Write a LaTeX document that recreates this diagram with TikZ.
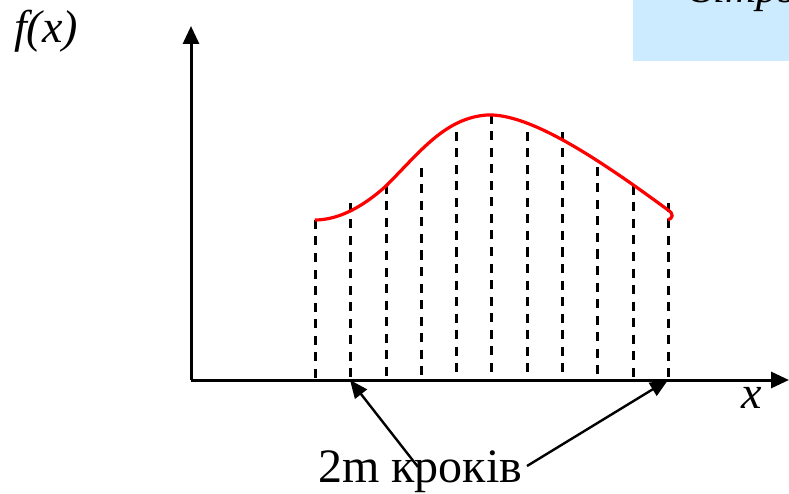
\documentclass[tikz,border=0pt]{standalone}
\usepackage{fontspec}
\setmainfont{Liberation Serif}
\usetikzlibrary{arrows.meta}
\definecolor{boxblue}{HTML}{CCEBFF}
\tikzset{
  axis/.style={line width=3pt,-{Triangle[length=18pt,width=16pt]}},
  ordinate/.style={line width=3pt,dash pattern=on 9pt off 7.5pt},
  curve/.style={red,line width=3.2pt},
  pointer/.style={line width=2.4pt,-{Triangle[length=18pt,width=15pt]}},
  lbl/.style={inner sep=0pt,font=\fontsize{46}{48}\selectfont\itshape}
}
\begin{document}
\begin{tikzpicture}[x=1pt,y=-1pt]
\useasboundingbox (0,0) rectangle (789,494);
\clip (0,0) rectangle (789,494);
% title box (cut off)
\fill[boxblue] (633,0) rectangle (789,61);
\node[lbl,font=\fontsize{43}{46}\selectfont\itshape,anchor=base west] (title) at (692,3) {Simpson};
% axes
\coordinate (O) at (191,380);
\coordinate (ytop) at (191,26);
\coordinate (xend) at (789,380);
\draw[axis] (O) -- (ytop);
\draw[axis] (O) -- (xend);
% ordinates
\foreach \i/\x/\y in {0/315/220,1/350/203,2/386/185,3/421/168,4/456/132,5/491/115,6/527/132,7/562/132,8/597/167,9/633/186,10/668/203}{
  \coordinate (t\i) at (\x,\y);
  \coordinate (b\i) at (\x,380);
  \draw[ordinate] (t\i) -- (b\i);
}
% curve
\draw[curve] (315,220) .. controls (340,220) and (365,205) .. (386,186)
  .. controls (420,152) and (445,118) .. (487,115)
  .. controls (530,113) and (600,160) .. (668,210)
  .. controls (674,214) and (673,218) .. (668,220);
% labels
\node[lbl] (fx) at (46,31) {f(x)};
\node[lbl] (xl) at (752,398) {x};
\node[inner sep=0pt,font=\fontsize{48}{52}\selectfont,anchor=base] (steps) at (420,482) {2m кроків};
\coordinate (s1) at (418,467);
\coordinate (s2) at (527,466);
\draw[pointer] (s1) -- (b1);
\draw[pointer] (s2) -- (b10);
\end{tikzpicture}
\end{document}
